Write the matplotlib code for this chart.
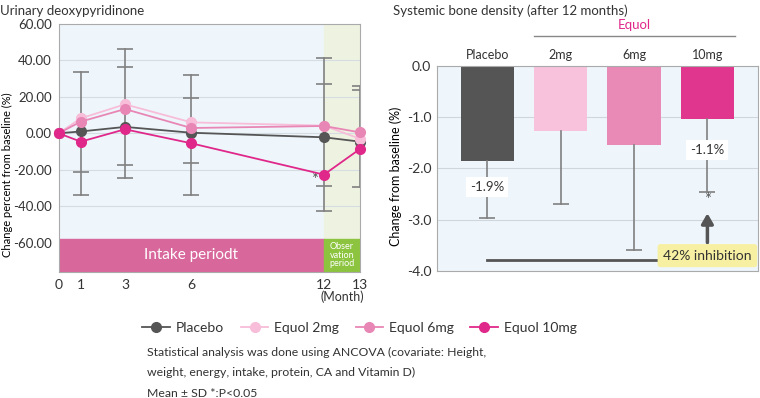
import matplotlib
matplotlib.use('Agg')
import matplotlib.pyplot as plt
import numpy as np

plt.rcParams.update({
    'font.family': ['Lato', 'DejaVu Sans'],
    'font.size': 10,
    'text.color': '#333333',
    'axes.edgecolor': '#999999',
    'xtick.color': '#333333',
    'ytick.color': '#333333',
})

# ---- left chart data: urinary deoxypyridinone ----
months = [0, 1, 3, 6, 12, 13]
placebo = [0, 1.0, 3.5, 0.3, -2.2, -4.6]
equol_2 = [0, 8.2, 15.9, 6.0, 4.2, -3.0]
equol_6 = [0, 6.4, 13.3, 2.9, 4.0, 0.5]
equol_10 = [0, -4.6, 2.2, -5.5, -22.7, -8.6]
err_months = [1, 3, 6, 12, 13]
err_hi_a = [33.8, 46.4, 31.8, 41.1, 26.1]
err_hi_b = [np.nan, 36.5, 19.5, 27.0, 23.6]
err_lo_a = [-21.2, -17.2, -16.4, -28.9, -29.4]
err_lo_b = [-34.0, -24.5, -33.8, -42.6, np.nan]

# ---- right chart data: systemic bone density ----
groups = ['Placebo', '2mg', '6mg', '10mg']
bmd_change = [-1.85, -1.27, -1.54, -1.03]
bmd_sd_low = [-2.96, -2.70, -3.59, -2.45]

C_PLA = '#555555'
C_2 = '#f7bdd9'
C_6 = '#e887b5'
C_10 = '#e0288a'
BG = '#eef6fb'

fig = plt.figure(figsize=(7.6, 3.98), dpi=100)

# ================= left =================
ax = fig.add_axes([0.0772, 0.3173, 0.3965, 0.6224])
ax.set_facecolor(BG)


def fwd(x):
    x = np.asarray(x, dtype=float)
    return np.where(x <= 12, x, 12 + (x - 12) * 1.63)


def inv(y):
    y = np.asarray(y, dtype=float)
    return np.where(y <= 12, y, 12 + (y - 12) / 1.63)


ax.set_xscale('function', functions=(fwd, inv))
ax.set_xlim(0, 13)
ax.set_ylim(-76, 60)

ax.axvspan(12, 13, color='#eef3e1', zorder=0)
ax.set_yticks([60, 40, 20, 0, -20, -40, -60])
ax.set_yticklabels(['60.00', '40.00', '20.00', '0.00', '-20.00', '-40.00', '-60.00'], fontsize=9.5)
for yv in [40, 20, 0, -20, -40]:
    ax.axhline(yv, color='#d5dce2', lw=0.8, zorder=1)

# period bands
ax.fill_between([0, 12], -76, -58, color='#d8679b', zorder=2)
ax.fill_between([12, 13], -76, -58, color='#8cc43f', zorder=2)
ax.text(6, -67, 'Intake periodt', color='white', fontsize=11, ha='center', va='center', zorder=3)
ax.text(12.5, -67, 'Obser\nvation\nperiod', color='white', fontsize=6.5, ha='center', va='center',
        linespacing=0.95, zorder=3)

# error bars
for m, a, b, c, d in zip(err_months, err_hi_a, err_hi_b, err_lo_a, err_lo_b):
    vals = [v for v in (a, b, c, d) if not np.isnan(v)]
    ax.plot([m, m], [min(vals), max(vals)], color='#808080', lw=1.2, zorder=2.5)
    ax.plot([m] * len(vals), vals, ls='none', marker='_', ms=11, mew=1.2, color='#808080', zorder=2.5)

lines = []
for vals, col, lab in [(placebo, C_PLA, 'Placebo'), (equol_2, C_2, 'Equol 2mg'),
                       (equol_6, C_6, 'Equol 6mg'), (equol_10, C_10, 'Equol 10mg')]:
    ln, = ax.plot(months, vals, color=col, lw=1.3, marker='o', ms=7, label=lab, zorder=4, clip_on=False)
    lines.append(ln)

ax.text(11.55, -25.5, '*', fontsize=12, ha='center', va='center', color='#555555')

ax.set_xticks(months)
ax.set_xticklabels([str(m) for m in months], fontsize=10)
ax.tick_params(length=0, pad=5)
ax.text(12.5, -86.5, '(Month)', fontsize=9, ha='center', va='top')
ax.set_ylabel('Change percent from baseline (%)', fontsize=8)
ax.yaxis.set_label_coords(-0.15, 0.39)
for s in ax.spines.values():
    s.set_color('#aaaaaa')
fig.text(0.0, 0.988, 'Urinary deoxypyridinone', fontsize=9.5, ha='left', va='top')

# ================= right =================
ax2 = fig.add_axes([0.5746, 0.3191, 0.4228, 0.5151])
ax2.set_facecolor(BG)
x = np.arange(len(groups))
ax2.set_xlim(-0.69, 3.69)
ax2.set_ylim(-4, 0)
for yv in [-1, -2, -3]:
    ax2.axhline(yv, color='#d0d6dc', lw=0.8, zorder=1)
ax2.bar(x, bmd_change, width=0.73, color=[C_PLA, '#f8c2dc', '#e889b6', '#e0368e'], zorder=2)
for xi, top, low in zip(x, bmd_change, bmd_sd_low):
    ax2.plot([xi, xi], [top, low], color='#808080', lw=1.2, zorder=2.5)
    ax2.plot([xi], [low], marker='_', ms=11, mew=1.2, color='#808080', zorder=2.5)

bbox = dict(boxstyle='square,pad=0.3', fc='white', ec='none')
ax2.text(x[0], -2.36, '-1.9%', fontsize=9.5, ha='center', va='center', bbox=bbox, zorder=3)
ax2.text(x[3], -1.64, '-1.1%', fontsize=9.5, ha='center', va='center', bbox=bbox, zorder=3)
ax2.text(x[3], -2.62, '*', fontsize=12, ha='center', va='center', color='#555555')

ax2.plot([x[0], x[3]], [-3.78, -3.78], color='#555555', lw=2, zorder=3)
ax2.annotate('', xy=(x[3], -2.82), xytext=(x[3], -3.5),
             arrowprops=dict(arrowstyle='-|>,head_width=0.35,head_length=0.6', color='#555555', lw=2.5),
             zorder=3)
ax2.text(x[3], -3.7, '42% inhibition', fontsize=10, ha='center', va='center', zorder=4,
         bbox=dict(boxstyle='round,pad=0.4,rounding_size=0.2', fc='#f7f0a3', ec='none'))

ax2.set_xticks([])
ax2.set_yticks([0, -1, -2, -3, -4])
ax2.set_yticklabels(['0.0', '-1.0', '-2.0', '-3.0', '-4.0'], fontsize=10)
ax2.tick_params(length=0, pad=4)
ax2.set_ylabel('Change from baseline (%)', fontsize=9)
ax2.yaxis.set_label_coords(-0.107, 0.46)
for s in ax2.spines.values():
    s.set_color('#aaaaaa')
for xi, g in zip(x, groups):
    ax2.text(xi, 0.1, g, fontsize=9, ha='center', va='bottom')
ax2.text(2.0, 0.68, 'Equol', fontsize=9.5, color=C_10, ha='center', va='bottom')
ax2.plot([0.63, 3.37], [0.58, 0.58], color='#888888', lw=1, clip_on=False)
fig.text(0.517, 0.988, 'Systemic bone density (after 12 months)', fontsize=9.5, ha='left', va='top')

# legend + notes
fig.legend(handles=lines, loc='center', bbox_to_anchor=(0.473, 0.176), ncol=4, frameon=False,
           fontsize=10, handlelength=2.0, columnspacing=1.2, handletextpad=0.4)
fig.text(0.193, 0.063, 'Statistical analysis was done using ANCOVA (covariate: Height,\n'
         'weight, energy, intake, protein, CA and Vitamin D)\nMean ± SD *:P<0.05',
         fontsize=8.8, ha='left', va='center', linespacing=2.05)

fig.savefig('out.png', dpi=100)
